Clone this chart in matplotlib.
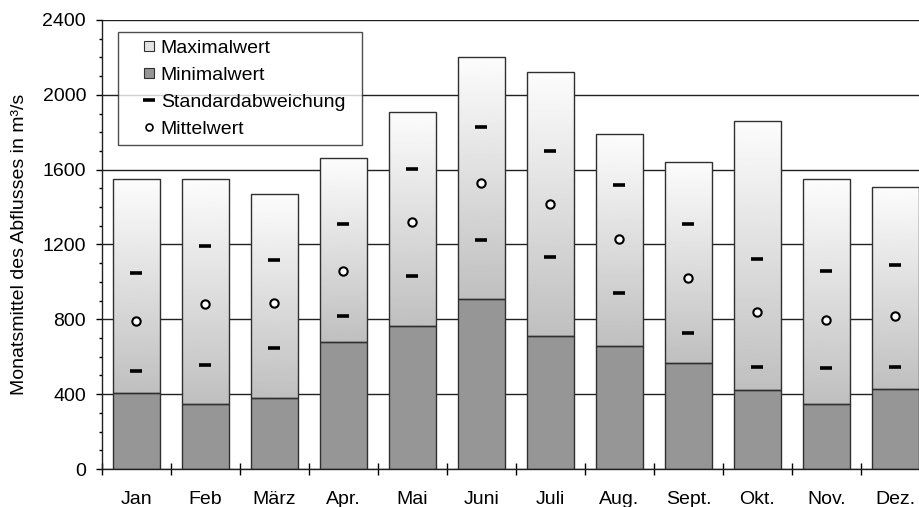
import numpy as np
import matplotlib
matplotlib.use("Agg")
import matplotlib.pyplot as plt
from matplotlib.lines import Line2D

plt.rcParams['font.family'] = ['Liberation Sans', 'DejaVu Sans']

months = ["Jan", "Feb", "März", "Apr.", "Mai", "Juni", "Juli", "Aug.", "Sept.", "Okt.", "Nov.", "Dez."]
max_vals = [1550, 1550, 1470, 1660, 1910, 2200, 2120, 1790, 1640, 1860, 1550, 1510]
min_vals = [405, 350, 380, 680, 765, 910, 710, 660, 565, 420, 350, 430]
mean_vals = [790, 880, 885, 1060, 1320, 1530, 1415, 1230, 1020, 840, 795, 820]
std_upper = [1050, 1190, 1115, 1310, 1605, 1830, 1700, 1520, 1310, 1125, 1060, 1090]
std_lower = [525, 555, 645, 820, 1030, 1225, 1135, 940, 725, 545, 540, 545]
yticks = [0, 400, 800, 1200, 1600, 2000, 2400]

FS = 14
W, H = 920, 507
fig = plt.figure(figsize=(W / 100, H / 100), dpi=100)
ax = fig.add_axes([102 / W, (507 - 469) / H, 828 / W, 449 / H])

x = np.arange(len(months)) + 0.5
bw = 0.68
edge = '#303030'

# min bars
ax.bar(x, min_vals, width=bw, color='#969696', edgecolor=edge, linewidth=1.0, zorder=2)
# upper segment (max - min) with gradient
upper = np.array(max_vals) - np.array(min_vals)
top_bars = ax.bar(x, upper, bottom=min_vals, width=bw, facecolor='none',
                  edgecolor=edge, linewidth=1.0, zorder=3)
grad = np.linspace(0.99, 0.75, 256).reshape(-1, 1)
for rect in top_bars:
    x0, y0 = rect.get_x(), rect.get_y()
    im = ax.imshow(grad, cmap='gray', vmin=0, vmax=1, aspect='auto',
                   extent=(x0, x0 + rect.get_width(), y0, y0 + rect.get_height()),
                   origin='upper', zorder=1.5, interpolation='bilinear')
    im.set_clip_path(rect)

# std markers
ax.plot(x, std_upper, linestyle='none', marker='_', markersize=8, mew=2.6, color='black', zorder=4)
ax.plot(x, std_lower, linestyle='none', marker='_', markersize=8, mew=2.6, color='black', zorder=4)
# mean markers
ax.plot(x, mean_vals, linestyle='none', marker='o', markersize=6, mfc='white', mec='black', mew=1.5, zorder=4)

ax.set_xlim(0, 12)
ax.set_ylim(0, 2400)

ax.set_axisbelow(True)
ax.yaxis.grid(True, color='#202020', linewidth=1.0)
ax.set_yticks(yticks)
ax.set_yticks(np.arange(0, 2401, 100), minor=True)
ax.tick_params(axis='y', which='major', direction='out', length=4.5, width=1, pad=7, labelsize=FS)
ax.tick_params(axis='y', which='minor', direction='out', length=2.5, width=1)

ax.set_xticks(np.arange(0, 13))
ax.set_xticklabels([])
ax.set_xticks(x, minor=True)
ax.set_xticklabels(months, minor=True)
ax.tick_params(axis='x', which='major', direction='inout', length=9, width=1)
ax.tick_params(axis='x', which='minor', length=0, pad=15.5, labelsize=FS)

for s in ['top', 'right']:
    ax.spines[s].set_visible(False)
for s in ['left', 'bottom']:
    ax.spines[s].set_color('#202020')
    ax.spines[s].set_linewidth(1.0)

ax.set_ylabel("Monatsmittel des Abflusses in m³/s", fontsize=FS)
ax.yaxis.set_label_coords((28 - 102) / 828, 0.5)

handles = [
    Line2D([], [], linestyle='none', marker='s', markersize=7, mfc='#e4e4e4', mec='#303030', mew=0.8),
    Line2D([], [], linestyle='none', marker='s', markersize=7, mfc='#969696', mec='#303030', mew=0.8),
    Line2D([], [], linestyle='none', marker='_', markersize=8, mew=2.6, color='black'),
    Line2D([], [], linestyle='none', marker='o', markersize=5, mfc='white', mec='black', mew=1.2),
]
labels = ["Maximalwert", "Minimalwert", "Standardabweichung", "Mittelwert"]
leg = fig.legend(handles, labels, loc='upper left',
                 bbox_to_anchor=(118 / W, 1 - 145 / H, 244 / W, 113 / H), mode='expand',
                 fontsize=FS, frameon=True, fancybox=False, numpoints=1,
                 handlelength=2.45, handletextpad=-0.62, labelspacing=0.48,
                 borderpad=0.37, borderaxespad=0)
leg.get_frame().set_edgecolor('#202020')
leg.get_frame().set_linewidth(1.0)

fig.savefig("out.png", dpi=100)
